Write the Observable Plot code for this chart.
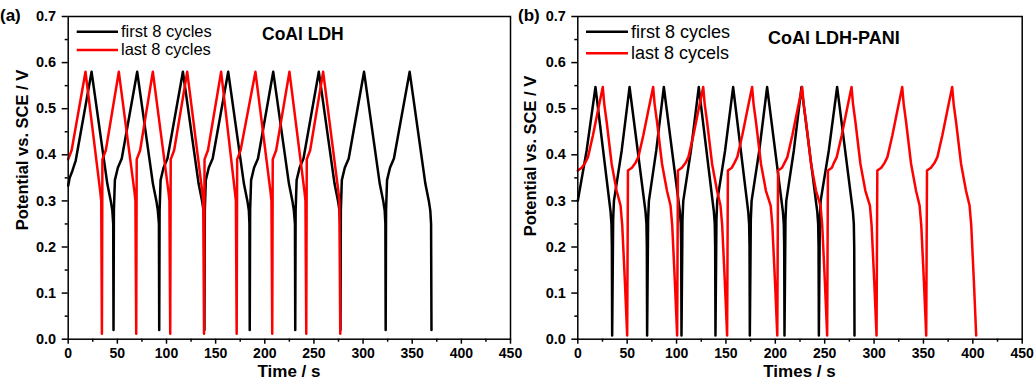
<!DOCTYPE html>
<html>
<head>
<meta charset="utf-8">
<script src="https://cdn.jsdelivr.net/npm/d3@7"></script>
<script src="https://cdn.jsdelivr.net/npm/@observablehq/plot@0.6"></script>
<style>
  html, body { margin: 0; padding: 0; background: #fff; }
  #wrap { position: relative; width: 1034px; height: 381px; overflow: hidden; background: #fff;
          font-family: "Liberation Sans", Arial, sans-serif; }
  .panel { position: absolute; top: 0; }
  .panel svg { overflow: visible; }
</style>
</head>
<body>
<div id="wrap"></div>
<script>
// ---------------- data (time s, potential V) ----------------
// Panel (a) CoAl LDH — first 8 cycles (black)
const aFirst = [
  [0,0.333],[1.5,0.350],[4.4,0.366],[7.7,0.388],[23.8,0.58],[27.1,0.53],[33.8,0.428],[39.8,0.337],[43.3,0.300],[44.9,0.279],[45.8,0.25],[46.1,0.020],
  [46.5,0.28],[47.5,0.345],[50.5,0.372],[54.5,0.392],[70.2,0.58],[73.5,0.53],[80.2,0.428],[86.2,0.337],[89.7,0.300],[91.2,0.279],[92.3,0.25],[92.6,0.020],
  [93.0,0.28],[94.0,0.345],[97.0,0.372],[101.0,0.392],[116.7,0.58],[120.0,0.53],[126.7,0.428],[132.7,0.337],[136.2,0.300],[137.7,0.279],[138.3,0.25],[138.6,0.020],
  [139.0,0.28],[140.0,0.345],[143.0,0.372],[147.0,0.392],[162.8,0.58],[166.1,0.53],[172.8,0.428],[178.8,0.337],[182.3,0.300],[183.8,0.279],[184.4,0.25],[184.7,0.020],
  [185.1,0.28],[186.1,0.345],[189.1,0.372],[193.1,0.392],[208.6,0.58],[211.9,0.53],[218.6,0.428],[224.6,0.337],[228.1,0.300],[229.6,0.279],[230.7,0.25],[231.0,0.020],
  [231.4,0.28],[232.4,0.345],[235.4,0.372],[239.4,0.392],[255.0,0.58],[258.3,0.53],[265.0,0.428],[271.0,0.337],[274.5,0.300],[276.0,0.279],[276.7,0.25],[277.0,0.020],
  [277.4,0.28],[278.4,0.345],[281.4,0.372],[285.4,0.392],[301.0,0.58],[304.3,0.53],[311.0,0.428],[317.0,0.337],[320.5,0.300],[322.0,0.279],[322.7,0.25],[323.0,0.020],
  [323.4,0.28],[324.4,0.345],[327.4,0.372],[331.4,0.392],[347.4,0.58],[350.7,0.53],[357.4,0.428],[363.4,0.337],[366.9,0.300],[368.4,0.279],[369.2,0.25],[369.6,0.020]
];
// Panel (a) CoAl LDH — last 8 cycles (red)
const aLast = [
  [0,0.39],[3.5,0.41],[17.6,0.58],[32.6,0.32],[33.6,0.30],[34.3,0.012],
  [34.8,0.39],[38.3,0.41],[51.5,0.58],[67.4,0.32],[68.4,0.30],[69.2,0.012],
  [69.7,0.39],[73.2,0.41],[86.1,0.58],[102.0,0.32],[103.0,0.30],[103.8,0.012],
  [104.3,0.39],[107.8,0.41],[121.1,0.58],[136.4,0.32],[137.4,0.30],[138.2,0.012],
  [138.7,0.39],[142.2,0.41],[155.6,0.58],[169.6,0.32],[170.6,0.30],[171.4,0.012],
  [171.9,0.39],[175.4,0.41],[190.5,0.58],[205.8,0.32],[206.8,0.30],[207.6,0.012],
  [208.1,0.39],[211.6,0.41],[225.1,0.58],[240.4,0.32],[241.4,0.30],[242.2,0.012],
  [242.7,0.39],[246.2,0.41],[259.4,0.58],[274.9,0.32],[275.9,0.30],[276.8,0.012]
];
// Panel (b) CoAl LDH-PANI — first 8 cycles (black)
const bFirst = [
  [0,0.30],[9.0,0.41],[17.9,0.547],[33.2,0.276],[34.1,0.25],[34.5,0.20],[34.8,0.008],
  [35.8,0.26],[36.6,0.30],[44.5,0.41],[52.4,0.547],[68.6,0.276],[69.5,0.25],[69.9,0.20],[70.2,0.008],
  [71.2,0.26],[72.0,0.30],[79.5,0.41],[87.1,0.547],[103.4,0.276],[104.3,0.25],[104.7,0.20],[105.0,0.008],
  [106.0,0.26],[106.8,0.30],[114.6,0.41],[122.5,0.547],[137.8,0.276],[138.7,0.25],[139.1,0.20],[139.4,0.008],
  [140.4,0.26],[141.2,0.30],[149.2,0.41],[157.3,0.547],[172.6,0.276],[173.5,0.25],[173.9,0.20],[174.2,0.008],
  [175.2,0.26],[176.0,0.30],[183.8,0.41],[191.7,0.547],[207.7,0.276],[208.6,0.25],[209.0,0.20],[209.3,0.008],
  [210.3,0.26],[211.1,0.30],[218.8,0.41],[226.5,0.547],[242.5,0.276],[243.4,0.25],[243.8,0.20],[244.1,0.008],
  [245.1,0.26],[245.9,0.30],[254.2,0.41],[262.6,0.547],[278.6,0.276],[279.5,0.25],[279.9,0.20],[280.2,0.008]
];
// Panel (b) CoAl LDH-PANI — last 8 cycles (red)
const bLast = [
  [0,0.366],[4.0,0.372],[7.3,0.382],[10.3,0.395],[15.3,0.442],[20.3,0.495],[25.3,0.547],[26.8,0.51],[29.3,0.47],[34.3,0.38],[39.3,0.322],[43.3,0.29],[45.0,0.247],[47.7,0.124],[50.0,0.008],
  [50.8,0.366],[54.8,0.372],[58.3,0.382],[61.3,0.395],[66.3,0.442],[71.3,0.495],[76.3,0.547],[77.8,0.51],[80.3,0.47],[85.3,0.38],[90.3,0.322],[93.9,0.29],[95.6,0.247],[98.3,0.124],[100.6,0.008],
  [101.4,0.366],[105.4,0.372],[109.0,0.382],[112.0,0.395],[117.0,0.442],[122.0,0.495],[127.0,0.547],[128.5,0.51],[131.0,0.47],[136.0,0.38],[141.0,0.322],[144.5,0.29],[146.2,0.247],[148.9,0.124],[151.2,0.008],
  [152.0,0.366],[156.0,0.372],[158.5,0.382],[161.5,0.395],[166.5,0.442],[171.5,0.495],[176.5,0.547],[178.0,0.51],[180.5,0.47],[185.5,0.38],[190.5,0.322],[195.3,0.29],[197.0,0.247],[199.7,0.124],[202.0,0.008],
  [202.8,0.366],[206.8,0.372],[209.2,0.382],[212.2,0.395],[217.2,0.442],[222.2,0.495],[227.2,0.547],[228.7,0.51],[231.2,0.47],[236.2,0.38],[241.2,0.322],[245.8,0.29],[247.5,0.247],[250.2,0.124],[252.5,0.008],
  [253.3,0.366],[257.3,0.372],[259.2,0.382],[262.2,0.395],[267.2,0.442],[272.2,0.495],[277.2,0.547],[278.7,0.51],[281.2,0.47],[286.2,0.38],[291.2,0.322],[295.8,0.29],[297.5,0.247],[300.2,0.124],[302.5,0.008],
  [303.3,0.366],[307.3,0.372],[310.5,0.382],[313.5,0.395],[318.5,0.442],[323.5,0.495],[328.5,0.547],[330.0,0.51],[332.5,0.47],[337.5,0.38],[342.5,0.322],[346.1,0.29],[347.8,0.247],[350.5,0.124],[352.8,0.008],
  [353.6,0.366],[357.6,0.372],[361.1,0.382],[364.1,0.395],[369.1,0.442],[374.1,0.495],[379.1,0.547],[380.6,0.51],[383.1,0.47],[388.1,0.38],[393.1,0.322],[396.7,0.29],[398.4,0.247],[401.1,0.124],[403.4,0.008]
];

// ---------------- ticks & labels ----------------
const xTicks = [0, 50, 100, 150, 200, 250, 300, 350, 400, 450];
const xMinorTicks = [25, 75, 125, 175, 225, 275, 325, 375, 425];
const yTicks = [0, 0.1, 0.2, 0.3, 0.4, 0.5, 0.6, 0.7];
const yMinorTicks = [0.05, 0.15, 0.25, 0.35, 0.45, 0.55, 0.65];
const yTitle = "Potential vs. SCE / V";
const aXTitle = "Time / s";
const bXTitle = "Times / s";
const aTag = "(a)", bTag = "(b)";
const aName = "CoAl LDH", bName = "CoAl LDH-PANI";
const aLegend = ["first 8 cycles", "last 8 cycles"];
const bLegend = ["first 8 cycles", "last 8 cycels"];
const BLACK = "#000000", RED = "#ff0000";

const FONT = "'Liberation Sans', Arial, sans-serif";

function makePanel(first, last, ml, mr) {
  return Plot.plot({
    width: 517, height: 381,
    marginTop: 16, marginBottom: 42.3, marginLeft: ml, marginRight: mr,
    x: { domain: [0, 450] },
    y: { domain: [0, 0.7] },
    style: { background: "transparent", overflow: "visible", fontFamily: FONT, fontWeight: "bold", color: "#000" },
    marks: [
      Plot.axisY(yTicks, { tickSize: 6, tickPadding: 6, tickFormat: d3.format(".1f"), fontSize: 14.5, label: null, strokeWidth: 1.5 }),
      Plot.axisY(yMinorTicks, { tickSize: 3, tickFormat: () => "", label: null, strokeWidth: 1.5 }),
      Plot.axisX(xTicks, { tickSize: 5, tickPadding: 4, tickFormat: d3.format("d"), fontSize: 14, label: null, strokeWidth: 1.5 }),
      Plot.axisX(xMinorTicks, { tickSize: 3, tickFormat: () => "", label: null, strokeWidth: 1.5 }),
      Plot.line(first, { stroke: BLACK, strokeWidth: 2.5 }),
      Plot.line(last, { stroke: RED, strokeWidth: 2.5 }),
      Plot.frame({ stroke: "#000", strokeWidth: 1.5 })
    ]
  });
}

const wrap = document.getElementById("wrap");
const pa = document.createElement("div"); pa.className = "panel"; pa.style.left = "0px";
pa.appendChild(makePanel(aFirst, aLast, 67.7, 7));
const pb = document.createElement("div"); pb.className = "panel"; pb.style.left = "517px";
pb.appendChild(makePanel(bFirst, bLast, 60.3, 12.3));
wrap.appendChild(pa); wrap.appendChild(pb);

// ---------------- overlay: titles, tags, legends ----------------
const ov = d3.create("svg")
  .attr("width", 1034).attr("height", 381)
  .style("position", "absolute").style("left", "0px").style("top", "0px")
  .style("overflow", "visible").style("font-family", FONT);

function txt(s, x, y, size, weight, anchor = "start") {
  return ov.append("text").attr("x", x).attr("y", y).attr("font-size", size)
    .attr("font-weight", weight).attr("text-anchor", anchor).attr("fill", "#000").text(s);
}
// panel tags
txt(aTag, 0, 21, 17, "bold");
txt(bTag, 518, 21, 17, "bold");
// x titles
txt(aXTitle, 289, 377.3, 17, "bold", "middle");
txt(bXTitle, 799.5, 377.3, 17, "bold", "middle");
// y titles
ov.append("text").attr("transform", "translate(28,150) rotate(-90)").attr("text-anchor", "middle")
  .attr("font-size", 16.5).attr("font-weight", "bold").text(yTitle);
ov.append("text").attr("transform", "translate(536,156) rotate(-90)").attr("text-anchor", "middle")
  .attr("font-size", 16.5).attr("font-weight", "bold").text(yTitle);
// inset names
txt(aName, 262, 39.5, 17.5, "bold");
txt(bName, 768, 43.5, 18, "bold");
// legends
function legendRow(x0, x1, y, color, label, size, ty) {
  ov.append("line").attr("x1", x0).attr("x2", x1).attr("y1", y).attr("y2", y)
    .attr("stroke", color).attr("stroke-width", 2.6);
  txt(label, x1 + 3, ty, size, "normal");
}
legendRow(76.7, 118, 31.7, BLACK, aLegend[0], 16.5, 36.5);
legendRow(76.7, 118, 50, RED, aLegend[1], 16.5, 55);
legendRow(586, 628, 31.7, BLACK, bLegend[0], 18, 37.5);
legendRow(586, 628, 53.3, RED, bLegend[1], 18, 58.5);

wrap.appendChild(ov.node());
</script>
</body>
</html>
